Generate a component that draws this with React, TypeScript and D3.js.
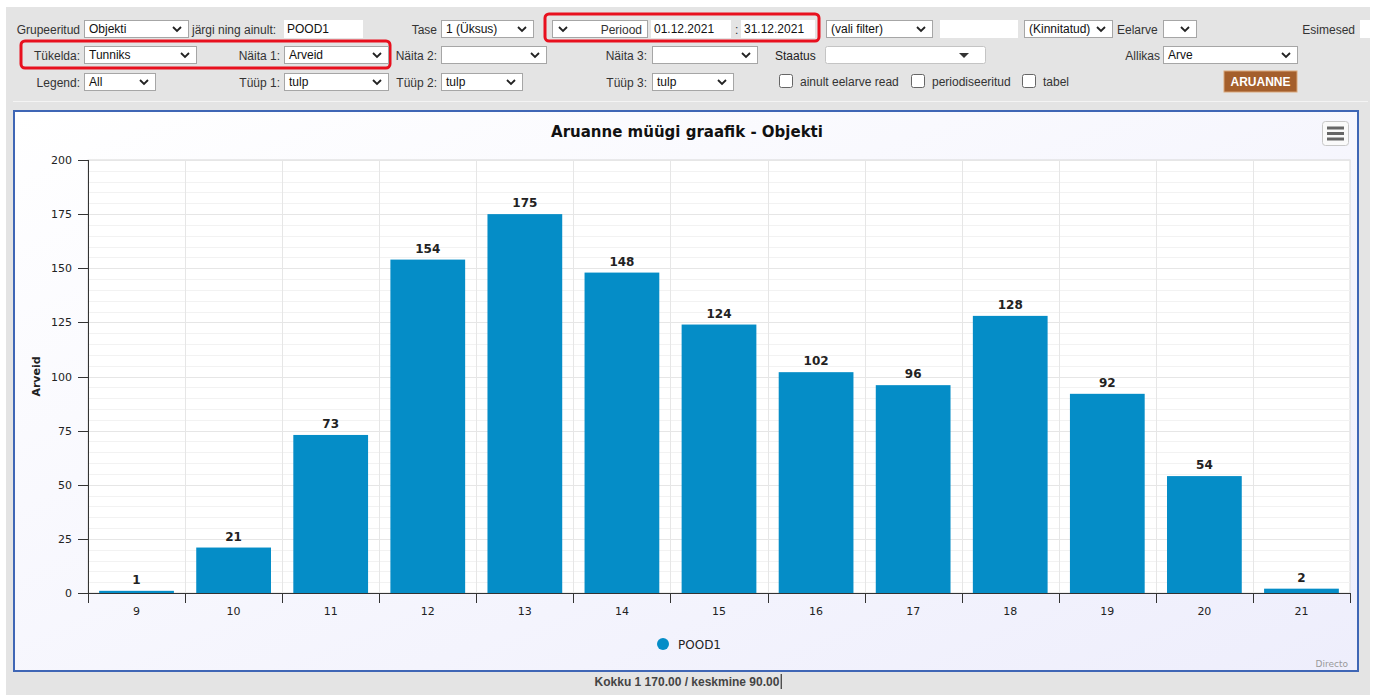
import React, { useRef, useEffect } from 'react';
import * as d3 from 'd3';

const hours = ['9', '10', '11', '12', '13', '14', '15', '16', '17', '18', '19', '20', '21'];
const invoices = [1, 21, 73, 154, 175, 148, 124, 102, 96, 128, 92, 54, 2];
const yTicks = [0, 25, 50, 75, 100, 125, 150, 175, 200];
const seriesName = 'POOD1';
const chartTitle = 'Aruanne müügi graafik - Objekti';
const yTitle = 'Arveid';

const W = 1376;
const H = 695;
const UI_FONT = '"Liberation Sans", Arial, sans-serif';
const CH_FONT = '"DejaVu Sans", Verdana, sans-serif';

function App() {
  const ref = useRef<SVGSVGElement>(null);

  useEffect(() => {
    const svg = d3.select(ref.current);
    svg.selectAll('*').remove();

    // page background
    svg.append('rect').attr('width', W).attr('height', H).attr('fill', '#fff');
    svg.append('rect').attr('x', 6).attr('y', 7).attr('width', W - 12).attr('height', H - 7).attr('fill', '#e4e4e4');
    svg.append('line').attr('x1', 13).attr('x2', W - 8).attr('y1', 101.5).attr('y2', 101.5).attr('stroke', '#f4f4f4');

    const label = (x: number, y: number, t: string, anchor = 'end', opts: any = {}) =>
      svg.append('text').attr('x', x).attr('y', y).attr('text-anchor', anchor)
        .attr('font-family', UI_FONT).attr('font-size', opts.size || 12)
        .attr('font-weight', opts.bold ? 'bold' : 'normal')
        .attr('fill', opts.fill || '#333').text(t);

    const chevron = (cx: number, cy: number) =>
      svg.append('path').attr('d', `M${cx - 4},${cy - 2}L${cx},${cy + 2}L${cx + 4},${cy - 2}`)
        .attr('fill', 'none').attr('stroke', '#222').attr('stroke-width', 1.8);

    const select = (x: number, y: number, w: number, t: string, caret = 'chev') => {
      svg.append('rect').attr('x', x + 0.5).attr('y', y + 0.5).attr('width', w).attr('height', 17)
        .attr('rx', caret === 'chev' ? 0 : 2)
        .attr('fill', '#fff').attr('stroke', caret === 'chev' ? '#a6a6a6' : '#c4c4c4');
      if (t) label(x + 5, y + 13, t, 'start', { fill: '#111' });
      if (caret === 'chev') chevron(x + w - 11, y + 9);
      else svg.append('path').attr('d', `M${x + w - 26},${y + 7}l10,0l-5,5z`).attr('fill', '#333');
    };
    const input = (x: number, y: number, w: number, t: string) => {
      svg.append('rect').attr('x', x).attr('y', y).attr('width', w).attr('height', 18).attr('fill', '#fff');
      if (t) label(x + 3, y + 13, t, 'start', { fill: '#111' });
    };
    const checkbox = (x: number, y: number, t: string) => {
      svg.append('rect').attr('x', x + 0.5).attr('y', y + 0.5).attr('width', 13).attr('height', 13).attr('rx', 2)
        .attr('fill', '#fff').attr('stroke', '#666');
      label(x + 21, y + 12, t, 'start');
    };

    // row 1
    label(80, 34, 'Grupeeritud');
    select(84, 20, 104, 'Objekti');
    label(192, 34, 'järgi ning ainult:', 'start');
    input(284, 20, 79, 'POOD1');
    label(437, 34, 'Tase');
    select(441, 20, 92, '1 (Üksus)');
    svg.append('rect').attr('x', 545).attr('y', 14).attr('width', 274).attr('height', 27).attr('rx', 4)
      .attr('fill', 'none').attr('stroke', '#e8101e').attr('stroke-width', 3);
    svg.append('rect').attr('x', 552.5).attr('y', 20.5).attr('width', 95).attr('height', 17).attr('fill', '#fff').attr('stroke', '#a6a6a6');
    chevron(563, 29);
    label(642, 34, 'Periood', 'end');
    input(651, 20, 80, '01.12.2021');
    label(735, 34, ':', 'start');
    input(741, 20, 74, '31.12.2021');
    select(826, 20, 106, '(vali filter)');
    input(940, 20, 78, '');
    select(1024, 20, 88, '(Kinnitatud)');
    label(1117, 34, 'Eelarve', 'start');
    select(1163, 20, 33, '');
    label(1355, 34, 'Esimesed');
    input(1360, 20, 16, '');

    // row 2
    svg.append('rect').attr('x', 21).attr('y', 41).attr('width', 369).attr('height', 27).attr('rx', 4)
      .attr('fill', 'none').attr('stroke', '#e8101e').attr('stroke-width', 3);
    label(80, 60, 'Tükelda:');
    select(84, 46, 112, 'Tunniks');
    label(280, 60, 'Näita 1:');
    select(284, 46, 104, 'Arveid');
    label(437, 60, 'Näita 2:');
    select(441, 46, 105, '');
    label(647, 60, 'Näita 3:');
    select(652, 46, 105, '');
    label(775, 60, 'Staatus', 'start', { fill: '#222' });
    select(825, 46, 160, '', 'tri');
    label(1160, 60, 'Allikas');
    select(1163, 46, 134, 'Arve');

    // row 3
    label(80, 87, 'Legend:');
    select(84, 73, 71, 'All');
    label(280, 87, 'Tüüp 1:');
    select(284, 73, 104, 'tulp');
    label(437, 87, 'Tüüp 2:');
    select(441, 73, 81, 'tulp');
    label(647, 87, 'Tüüp 3:');
    select(652, 73, 81, 'tulp');
    checkbox(779, 74, 'ainult eelarve read');
    checkbox(911, 74, 'periodiseeritud');
    checkbox(1022, 74, 'tabel');
    svg.append('rect').attr('x', 1224).attr('y', 71).attr('width', 73).attr('height', 21)
      .attr('fill', '#a45f2c').attr('stroke', '#d9a77a');
    label(1260.5, 86, 'ARUANNE', 'middle', { bold: true, fill: '#fff' });

    // chart container
    const grad = svg.append('defs').append('linearGradient').attr('id', 'bg')
      .attr('x1', 0).attr('y1', 0).attr('x2', 1).attr('y2', 1);
    grad.append('stop').attr('offset', '0%').attr('stop-color', '#ffffff');
    grad.append('stop').attr('offset', '100%').attr('stop-color', '#eeeefc');
    svg.append('rect').attr('x', 14).attr('y', 111).attr('width', 1344).attr('height', 560)
      .attr('fill', 'url(#bg)').attr('stroke', '#3f66b5').attr('stroke-width', 2);

    const left = 88, right = 1350, top = 160, bottom = 593;

    const x = d3.scaleBand().domain(hours).range([left, right]).paddingInner(0.23).paddingOuter(0.115);
    const y = d3.scaleLinear().domain([0, 200]).range([bottom, top]);
    const step = x.step();

    svg.append('rect').attr('x', left).attr('y', top).attr('width', right - left).attr('height', bottom - top)
      .attr('fill', '#fff').attr('stroke', '#d8d8d8');

    // minor + major grid
    svg.append('g').selectAll('line').data(d3.range(5, 200, 5).filter(v => v % 25 !== 0)).join('line')
      .attr('x1', left).attr('x2', right).attr('y1', d => Math.round(y(d)) + 0.5).attr('y2', d => Math.round(y(d)) + 0.5)
      .attr('stroke', '#f2f2f2');
    svg.append('g').selectAll('line').data(yTicks.slice(1)).join('line')
      .attr('x1', left).attr('x2', right).attr('y1', d => Math.round(y(d)) + 0.5).attr('y2', d => Math.round(y(d)) + 0.5)
      .attr('stroke', '#e6e6e6');
    svg.append('g').selectAll('line').data(d3.range(1, hours.length)).join('line')
      .attr('x1', i => Math.round(left + i * step) + 0.5).attr('x2', i => Math.round(left + i * step) + 0.5)
      .attr('y1', top).attr('y2', bottom).attr('stroke', '#e6e6e6');

    // bars
    svg.append('g').selectAll('rect').data(invoices).join('rect')
      .attr('x', (d, i) => x(hours[i])!)
      .attr('y', d => y(d))
      .attr('width', x.bandwidth())
      .attr('height', d => y(0) - y(d))
      .attr('fill', '#058dc7');

    svg.append('g').selectAll('text').data(invoices).join('text')
      .attr('x', (d, i) => x(hours[i])! + x.bandwidth() / 2)
      .attr('y', d => y(d) - 7)
      .attr('text-anchor', 'middle').attr('font-family', CH_FONT).attr('font-size', 12)
      .attr('font-weight', 'bold').attr('fill', '#222').text(d => d);

    // x axis
    const xa = svg.append('g');
    xa.append('line').attr('x1', left).attr('x2', right).attr('y1', bottom + 0.5).attr('y2', bottom + 0.5).attr('stroke', '#333');
    xa.selectAll('line.t').data(d3.range(0, hours.length + 1)).join('line').attr('class', 't')
      .attr('x1', i => Math.round(left + i * step) + 0.5).attr('x2', i => Math.round(left + i * step) + 0.5)
      .attr('y1', bottom).attr('y2', bottom + 10).attr('stroke', '#333');
    xa.selectAll('text').data(hours).join('text')
      .attr('x', d => x(d)! + x.bandwidth() / 2).attr('y', bottom + 22)
      .attr('text-anchor', 'middle').attr('font-family', CH_FONT).attr('font-size', 11)
      .attr('fill', '#222').text(d => d);

    // y axis
    const ya = svg.append('g');
    ya.append('line').attr('x1', left + 0.5).attr('x2', left + 0.5).attr('y1', top).attr('y2', bottom + 10).attr('stroke', '#333');
    ya.selectAll('line.t').data(yTicks).join('line').attr('class', 't')
      .attr('x1', left - 10).attr('x2', left).attr('y1', d => Math.round(y(d)) + 0.5).attr('y2', d => Math.round(y(d)) + 0.5)
      .attr('stroke', '#333');
    ya.selectAll('text').data(yTicks).join('text')
      .attr('x', left - 16).attr('y', d => y(d) + 4)
      .attr('text-anchor', 'end').attr('font-family', CH_FONT).attr('font-size', 11)
      .attr('fill', '#222').text(d => d);
    svg.append('text').attr('transform', `translate(40,${(top + bottom) / 2}) rotate(-90)`)
      .attr('text-anchor', 'middle').attr('font-family', CH_FONT).attr('font-size', 11)
      .attr('font-weight', 'bold').attr('fill', '#222').text(yTitle);

    // title
    svg.append('text').attr('x', 687).attr('y', 137).attr('text-anchor', 'middle')
      .attr('font-family', CH_FONT).attr('font-size', 15).attr('font-weight', 'bold')
      .attr('fill', '#111').text(chartTitle);

    // menu button
    svg.append('rect').attr('x', 1322.5).attr('y', 121.5).attr('width', 26).attr('height', 24).attr('rx', 3)
      .attr('fill', '#fafafa').attr('stroke', '#c8c8c8');
    [128, 133.5, 139].forEach(yy =>
      svg.append('line').attr('x1', 1327).attr('x2', 1344).attr('y1', yy).attr('y2', yy)
        .attr('stroke', '#666').attr('stroke-width', 3));

    // legend
    svg.append('circle').attr('cx', 663).attr('cy', 644).attr('r', 6).attr('fill', '#058dc7');
    svg.append('text').attr('x', 678).attr('y', 649).attr('font-family', CH_FONT).attr('font-size', 12)
      .attr('fill', '#222').text(seriesName);

    // credits
    svg.append('text').attr('x', 1348).attr('y', 667).attr('text-anchor', 'end').attr('font-family', CH_FONT)
      .attr('font-size', 9).attr('fill', '#999').text('Directo');

    // total line
    const total = d3.sum(invoices);
    const avg = total / invoices.length;
    const fmt = (v: number) => d3.format(',.2f')(v).replace(/,/g, ' ');
    const tt = label(687, 686, `Kokku ${fmt(total)} / keskmine ${fmt(avg)}`, 'middle', { bold: true, fill: '#444' });
    const bb = (tt.node() as SVGTextElement).getBBox();
    svg.append('line').attr('x1', bb.x + bb.width + 1.5).attr('x2', bb.x + bb.width + 1.5)
      .attr('y1', 674).attr('y2', 689).attr('stroke', '#111');
  }, []);

  return (
    <svg ref={ref} width={W} height={H} style={{ position: 'absolute', left: 0, top: 0 }}></svg>
  );
}

export default App;
